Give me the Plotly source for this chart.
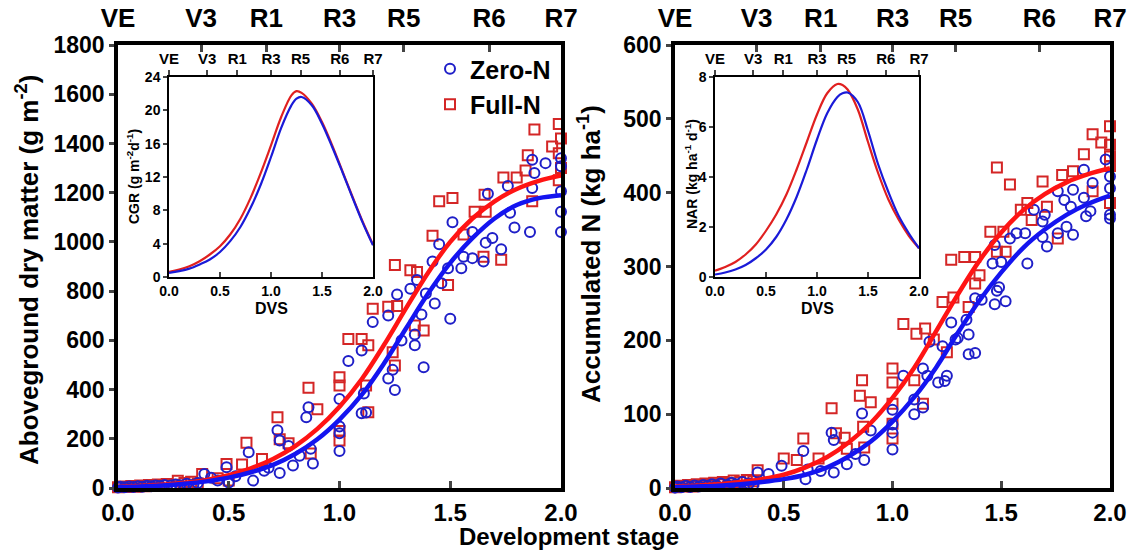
import plotly.graph_objects as go

# ---------------- data ----------------
stage_labels = ["VE", "V3", "R1", "R3", "R5", "R6", "R7"]
stage_dvs = [0.0, 0.375, 0.67, 1.0, 1.29, 1.675, 2.0]

fit_dvs = [0.0, 0.1, 0.2, 0.3, 0.4, 0.5, 0.6, 0.7, 0.8, 0.9, 1.0,
           1.1, 1.2, 1.3, 1.4, 1.5, 1.6, 1.7, 1.8, 1.9, 2.0]
dm_fit_full = [5, 8, 13, 21, 33, 52, 80, 118, 170, 240, 330,
               442, 580, 730, 875, 1000, 1095, 1165, 1215, 1248, 1270]
dm_fit_zero = [4, 6, 10, 17, 27, 42, 64, 94, 138, 198, 278,
               378, 505, 648, 790, 915, 1015, 1095, 1150, 1178, 1190]
n_fit_full = [2, 3, 5, 8, 12, 18, 28, 42, 62, 88, 122,
              163, 212, 262, 308, 346, 376, 398, 414, 425, 433]
n_fit_zero = [1, 2, 3, 5, 8, 12, 18, 28, 43, 63, 90,
              123, 163, 210, 254, 292, 325, 350, 370, 385, 396]

rate_dvs = [0.0, 0.1, 0.2, 0.3, 0.4, 0.5, 0.6, 0.7, 0.8, 0.9, 1.0, 1.1,
            1.2, 1.25, 1.3, 1.4, 1.5, 1.6, 1.7, 1.8, 1.9, 2.0]
cgr_full = [0.6, 0.9, 1.3, 1.9, 2.7, 3.7, 5.1, 7.0, 9.5, 12.5, 15.8, 19.2,
            21.8, 22.3, 22.1, 20.8, 18.6, 15.8, 12.7, 9.6, 6.6, 3.9]
cgr_zero = [0.5, 0.7, 1.0, 1.5, 2.1, 3.0, 4.3, 6.0, 8.3, 11.1, 14.4, 17.9,
            20.6, 21.4, 21.6, 20.6, 18.4, 15.6, 12.6, 9.5, 6.5, 3.8]
nar_full = [0.25, 0.4, 0.6, 0.9, 1.3, 1.85, 2.5, 3.3, 4.3, 5.4, 6.5, 7.35,
            7.72, 7.68, 7.5, 6.7, 5.4, 4.15, 3.1, 2.3, 1.65, 1.15]
nar_zero = [0.1, 0.18, 0.3, 0.48, 0.75, 1.1, 1.6, 2.3, 3.2, 4.3, 5.5, 6.55,
            7.2, 7.35, 7.38, 7.0, 5.85, 4.5, 3.4, 2.45, 1.75, 1.15]

# observed aboveground dry matter (g m-2)
dm_full_dvs = [0.0, 0.02, 0.04, 0.06, 0.08, 0.1, 0.12, 0.14, 0.16, 0.18, 0.2, 0.22, 0.25, 0.27, 0.3, 0.33, 0.36,
               0.38, 0.45, 0.49, 0.5, 0.56, 0.58, 0.65, 0.72, 0.73, 0.77, 0.86, 0.9, 0.87,
               1.0, 1.0, 1.0, 1.0, 1.04, 1.1, 1.13, 1.12, 1.13, 1.15, 1.22, 1.26, 1.24, 1.25, 1.34, 1.38,
               1.88, 1.99, 1.96, 1.99, 1.85, 1.84, 1.74, 1.80, 1.99, 1.87, 2.0, 2.0,
               1.45, 1.51, 1.61, 1.66, 1.655, 1.42, 1.56, 1.65, 1.73, 1.25, 1.32, 1.35, 1.49]
dm_full_val = [3, 6, 4, 8, 5, 10, 7, 12, 9, 14, 11, 16, 13, 29, 20, 25, 18,
               57, 40, 98, 30, 95, 184, 118, 287, 198, 182, 407, 320, 140,
               450, 416, 232, 193, 605, 605, 580, 416, 308, 728, 736, 740, 552, 498, 660, 640,
               1457, 1479, 1388, 1360, 1352, 1290, 1262, 1262, 1250, 1165, 1420, 1300,
               1165, 1178, 1122, 1122, 1192, 1025, 1030, 940, 927, 906, 885, 878, 825]

dm_zero_dvs = [0.0, 0.01, 0.03, 0.05, 0.07, 0.09, 0.11, 0.13, 0.15, 0.17, 0.19, 0.21, 0.24, 0.26, 0.28, 0.31, 0.34, 0.36,
               0.39, 0.42, 0.45, 0.49, 0.5, 0.53, 0.59, 0.61, 0.66, 0.68, 0.72, 0.73, 0.73, 0.77, 0.79, 0.82,
               0.85, 0.86, 0.87, 0.88, 1.0, 1.0, 1.0, 1.0, 1.04, 1.1, 1.1, 1.12, 1.11, 1.15,
               1.22, 1.24, 1.25, 1.22, 1.26, 1.28, 1.32, 1.34, 1.34, 1.37, 1.38, 1.43, 1.5,
               1.35, 1.39, 1.42, 1.45, 1.46, 1.49, 1.51, 1.55, 1.56, 1.6, 1.6, 1.65, 1.66, 1.67, 1.69, 1.73,
               1.76, 1.77, 1.79, 1.86, 1.87, 1.87, 1.88, 1.93, 2.0, 2.0, 2.0, 2.0, 2.0]
dm_zero_val = [2, 5, 3, 6, 4, 7, 5, 9, 7, 10, 8, 12, 10, 14, 11, 17, 13, 20,
               57, 42, 30, 84, 22, 48, 145, 30, 70, 82, 235, 193, 61, 171, 91, 131,
               287, 328, 159, 100, 362, 250, 222, 150, 516, 559, 304, 307, 384, 674,
               445, 480, 398, 701, 786, 599, 810, 580, 624, 705, 491, 750, 688,
               845, 790, 920, 990, 832, 893, 1080, 893, 940, 1040, 934, 920, 997, 1196, 1016, 970,
               1227, 1118, 1058, 1040, 1219, 1334, 1280, 1320, 1340, 1307, 1206, 1122, 1040]

# observed accumulated N (kg ha-1)
n_full_dvs = [0.0, 0.02, 0.04, 0.06, 0.08, 0.1, 0.12, 0.14, 0.16, 0.18, 0.2, 0.22, 0.25, 0.27, 0.3, 0.33, 0.36,
              0.38, 0.5, 0.56, 0.59, 0.66, 0.72, 0.74, 0.78, 0.79, 0.86, 0.85, 0.9, 0.865, 0.87,
              1.0, 1.0, 1.0, 1.0, 1.0, 1.05, 1.11, 1.15, 1.10, 1.14, 1.19, 1.23, 1.28, 1.25, 1.35, 1.38, 1.40,
              2.0, 1.92, 1.96, 2.0, 1.88, 2.0, 2.0, 1.48, 1.54, 1.69, 1.78, 1.83, 1.92, 2.0, 1.62, 1.71,
              1.59, 1.64, 1.76, 1.45, 1.51, 1.48, 1.52, 1.27, 1.33, 1.38]
n_full_val = [1, 3, 2, 4, 2, 5, 3, 6, 4, 7, 5, 8, 6, 10, 8, 11, 9,
              24, 40, 38, 67, 40, 108, 74, 68, 53, 146, 125, 116, 83, 55,
              162, 143, 114, 87, 67, 222, 209, 216, 146, 114, 201, 252, 258, 184, 245, 277, 288,
              490, 479, 468, 465, 452, 449, 436, 434, 411, 415, 424, 429, 402, 386, 386, 381,
              377, 363, 338, 347, 347, 320, 320, 309, 313, 313]

n_zero_dvs = [0.0, 0.01, 0.03, 0.05, 0.07, 0.09, 0.11, 0.13, 0.15, 0.17, 0.19, 0.21, 0.24, 0.26, 0.28, 0.31, 0.34, 0.36,
              0.38, 0.43, 0.49, 0.59, 0.6, 0.61, 0.67, 0.72, 0.73, 0.73, 0.79, 0.83, 0.86, 0.9, 0.87,
              1.0, 1.0, 1.0, 1.0, 1.05, 1.1, 1.1, 1.14, 1.16, 1.14, 1.17, 1.21, 1.24, 1.23, 1.27, 1.29,
              1.35, 1.35, 1.38, 1.34, 1.41, 1.48, 1.47, 1.52,
              1.98, 2.0, 2.0, 2.0, 2.0, 1.92, 1.88, 1.83, 1.79, 1.76, 1.88, 1.91, 1.89, 1.82, 1.80, 1.83,
              1.76, 1.70, 1.69, 1.65, 1.69, 1.71, 1.61, 1.57, 1.54, 1.62, 1.47, 1.46, 1.50, 1.49,
              1.38, 1.30, 1.25]
n_zero_val = [0.5, 2, 1, 3, 1.5, 3.5, 2, 4, 3, 5, 3.5, 6, 4.5, 7, 5, 8, 6, 4,
              21, 19, 30, 50, 12, 25, 23, 75, 65, 21, 32, 46, 101, 78, 38,
              106, 86, 75, 52, 152, 100, 120, 109, 152, 162, 198, 143, 145, 192, 224, 201,
              208, 181, 183, 228, 255, 267, 249, 253,
              445, 422, 406, 370, 365, 413, 431, 404, 390, 402, 393, 375, 368, 381, 354, 343,
              345, 370, 361, 377, 340, 327, 345, 345, 338, 304, 329, 304, 306, 272,
              257, 203, 152]

# ---------------- style ----------------
W, H = 1138, 552
FONT = "Liberation Sans, Arial, sans-serif"
BLUE_M = "#1f1fc8"
RED_M = "#d42626"
BLUE_L = "#1414f0"
RED_L = "#ff1414"


def fx(p):
    return p / W


def fy(p):
    return 1 - p / H


fig = go.Figure()


def add_panel(xa, ya, xs_full, ys_full, xs_zero, ys_zero, fit_full, fit_zero, legend):
    fig.add_trace(go.Scatter(x=xs_full, y=ys_full, mode="markers", name="Full-N",
                             legendgroup="full", legendrank=2, showlegend=legend,
                             marker=dict(symbol="square-open", size=10, color=RED_M, line=dict(width=2, color=RED_M)),
                             xaxis=xa, yaxis=ya, cliponaxis=False))
    fig.add_trace(go.Scatter(x=xs_zero, y=ys_zero, mode="markers", name="Zero-N",
                             legendgroup="zero", legendrank=1, showlegend=legend,
                             marker=dict(symbol="circle-open", size=10, color=BLUE_M, line=dict(width=2, color=BLUE_M)),
                             xaxis=xa, yaxis=ya, cliponaxis=False))
    fig.add_trace(go.Scatter(x=fit_dvs, y=fit_full, mode="lines", showlegend=False,
                             line=dict(color=RED_L, width=4.5, shape="spline"), xaxis=xa, yaxis=ya))
    fig.add_trace(go.Scatter(x=fit_dvs, y=fit_zero, mode="lines", showlegend=False,
                             line=dict(color=BLUE_L, width=4.5, shape="spline"), xaxis=xa, yaxis=ya))


add_panel("x", "y", dm_full_dvs, dm_full_val, dm_zero_dvs, dm_zero_val, dm_fit_full, dm_fit_zero, True)
add_panel("x2", "y2", n_full_dvs, n_full_val, n_zero_dvs, n_zero_val, n_fit_full, n_fit_zero, False)

for xa, ya, rf, rz in [("x3", "y3", cgr_full, cgr_zero), ("x4", "y4", nar_full, nar_zero)]:
    fig.add_trace(go.Scatter(x=rate_dvs, y=rf, mode="lines", showlegend=False,
                             line=dict(color="#e02020", width=2.2, shape="spline"), xaxis=xa, yaxis=ya))
    fig.add_trace(go.Scatter(x=rate_dvs, y=rz, mode="lines", showlegend=False,
                             line=dict(color="#1a1ad8", width=2.2, shape="spline"), xaxis=xa, yaxis=ya))

# dummy traces so top stage axes are drawn
for xa, ya in [("x5", "y"), ("x6", "y2"), ("x7", "y3"), ("x8", "y4")]:
    fig.add_trace(go.Scatter(x=stage_dvs, y=[None] * len(stage_dvs), mode="markers",
                             showlegend=False, hoverinfo="skip", xaxis=xa, yaxis=ya))


def bold(s):
    return dict(family=FONT, size=s, color="black", weight="bold")


common = dict(showgrid=False, zeroline=False, automargin=False, linecolor="black", showline=True)
main_x = dict(common, range=[0, 2], tickvals=[0, 0.5, 1.0, 1.5, 2.0], ticktext=["0.0", "0.5", "1.0", "1.5", "2.0"],
              ticks="inside", ticklen=7, tickwidth=3, linewidth=3.5, tickfont=bold(24), ticklabelstandoff=0)
main_y = dict(common, ticks="outside", ticklen=5, tickwidth=3, linewidth=3.5, mirror=True, tickfont=bold(23))
top_x = dict(common, range=[0, 2], tickvals=stage_dvs, ticktext=stage_labels, side="top",
             ticks="inside", ticklen=7, tickwidth=3, linewidth=3.5, tickfont=bold(26), ticklabelstandoff=4)
ins_x = dict(common, range=[0, 2], tickvals=[0, 0.5, 1.0, 1.5, 2.0], ticktext=["0.0", "0.5", "1.0", "1.5", "2.0"],
             ticks="inside", ticklen=5, tickwidth=1.5, linewidth=1.5, tickfont=bold(14))
ins_y = dict(common, ticks="outside", ticklen=4, tickwidth=1.5, linewidth=1.5, mirror=True, tickfont=bold(14))
ins_top = dict(common, range=[0, 2], tickvals=stage_dvs, ticktext=stage_labels, side="top",
               ticks="outside", ticklen=5, tickwidth=1.5, linewidth=1.5, tickfont=bold(15))

main_ydom = [fy(488), fy(45)]
ins_ydom = [fy(277), fy(77)]

fig.update_layout(
    width=W, height=H, margin=dict(l=0, r=0, t=0, b=0, pad=0, autoexpand=False),
    paper_bgcolor="white", plot_bgcolor="rgba(0,0,0,0)",
    font=dict(family=FONT, color="black"),
    showlegend=True,
    legend=dict(x=fx(430), y=fy(46), xanchor="left", yanchor="top", bgcolor="rgba(0,0,0,0)",
                font=bold(25), tracegroupgap=4, traceorder="normal"),
    xaxis=dict(main_x, domain=[fx(118), fx(561)], anchor="y"),
    yaxis=dict(main_y, domain=main_ydom, range=[0, 1800], dtick=200, anchor="x"),
    xaxis2=dict(main_x, domain=[fx(675), fx(1110)], anchor="y2"),
    yaxis2=dict(main_y, domain=main_ydom, range=[0, 600], dtick=100, anchor="x2"),
    xaxis3=dict(ins_x, domain=[fx(169), fx(373)], anchor="y3"),
    yaxis3=dict(ins_y, domain=ins_ydom, range=[0, 24], dtick=4, anchor="x3"),
    xaxis4=dict(ins_x, domain=[fx(715), fx(919)], anchor="y4"),
    yaxis4=dict(ins_y, domain=ins_ydom, range=[0, 8], dtick=2, anchor="x4"),
    xaxis5=dict(top_x, overlaying="x", anchor="y"),
    xaxis6=dict(top_x, overlaying="x2", anchor="y2"),
    xaxis7=dict(ins_top, overlaying="x3", anchor="y3"),
    xaxis8=dict(ins_top, overlaying="x4", anchor="y4"),
)

ann = [
    dict(text="Aboveground dry matter (g m<sup>-2</sup>)", x=fx(27), y=fy(270), textangle=-90, font=bold(26),
         yanchor="middle"),
    dict(text="Accumulated N (kg ha<sup>-1</sup>)", x=fx(589), y=fy(254), textangle=-90, font=bold(26),
         yanchor="middle"),
    dict(text="Development stage", x=fx(569), y=fy(551.5), font=bold(24), yanchor="bottom"),
    dict(text="DVS", x=fx(271), y=fy(308), font=bold(16), yanchor="middle"),
    dict(text="DVS", x=fx(817), y=fy(308), font=bold(16), yanchor="middle"),
    dict(text="CGR (g m<sup>-2</sup>d<sup>-1</sup>)", x=fx(133), y=fy(177), textangle=-90, font=bold(14),
         yanchor="middle"),
    dict(text="NAR (kg ha<sup>-1</sup> d<sup>-1</sup>)", x=fx(691), y=fy(174), textangle=-90, font=bold(14),
         yanchor="middle"),
]
for a in ann:
    fig.add_annotation(xref="paper", yref="paper", showarrow=False, xanchor="center", **a)

fig.write_html("out.html")
